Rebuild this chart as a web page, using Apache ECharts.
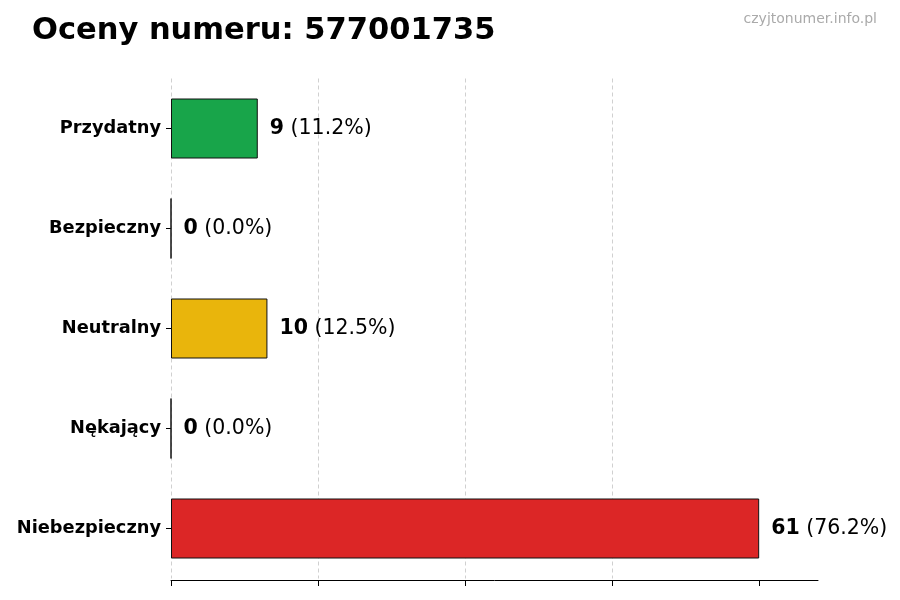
<!DOCTYPE html>
<html><head><meta charset="utf-8">
<script src="https://cdn.jsdelivr.net/npm/echarts@6/dist/echarts.min.js"></script>
<style>html,body{margin:0;padding:0;background:#fff}#c{width:900px;height:600px}</style>
</head><body><div id="c"></div>
<script>
const categories = ['Przydatny', 'Bezpieczny', 'Neutralny', 'Nękający', 'Niebezpieczny'];
const values = [9, 0, 10, 0, 61];
const percents = ['11.2%', '0.0%', '12.5%', '0.0%', '76.2%'];
const colors = ['#18a54a', '#18a54a', '#e9b50c', '#e9b50c', '#dc2626'];
const xTicks = [0, 15.25, 30.5, 45.75, 61];
const titleText = 'Oceny numeru: 577001735';
const watermark = 'czyjtonumer.info.pl';

const chart = echarts.init(document.getElementById('c'));
chart.setOption({
  animation: false,
  textStyle: { fontFamily: 'DejaVu Sans' },
  title: [{
    text: titleText, left: 27, top: 11,
    textStyle: { fontSize: 30.5, fontWeight: 'bold', color: '#000', fontFamily: 'DejaVu Sans' }
  }, {
    text: watermark, right: 18, top: 7,
    textStyle: { fontSize: 14, fontWeight: 'normal', color: '#aaaaaa', fontFamily: 'DejaVu Sans' }
  }],
  grid: { left: 171, right: 82, top: 78.5, height: 500, containLabel: false },
  xAxis: {
    type: 'value', min: 0, max: 67.1, interval: 15.25, offset: 1.5,
    axisLine: { show: true, lineStyle: { color: '#000', width: 1 } },
    axisTick: { show: true, length: 6, lineStyle: { color: '#000' }, customValues: xTicks },
    axisLabel: { show: false },
    splitLine: { show: true, showMaxLine: false, lineStyle: { color: '#d0d0d0', type: [4, 3], width: 1 } }
  },
  yAxis: {
    type: 'category', data: categories, inverse: true,
    axisLine: { show: false },
    axisTick: { show: true, alignWithLabel: true, length: 5, lineStyle: { color: '#000' } },
    axisLabel: { fontSize: 17.8, fontWeight: 'bold', color: '#000', margin: 10, fontFamily: 'DejaVu Sans' }
  },
  series: [{
    type: 'bar', barWidth: 60,
    data: values.map((v, i) => ({ value: v, itemStyle: { color: colors[i] } })),
    itemStyle: { borderColor: '#111', borderWidth: 1 },
    label: {
      show: true, position: 'right', distance: 12,
      formatter: p => '{b|' + values[p.dataIndex] + '}{n| (' + percents[p.dataIndex] + ')}',
      rich: {
        b: { fontSize: 20.5, fontWeight: 'bold', color: '#000', fontFamily: 'DejaVu Sans' },
        n: { fontSize: 20.5, color: '#000', fontFamily: 'DejaVu Sans' }
      }
    }
  }]
});
</script></body></html>
